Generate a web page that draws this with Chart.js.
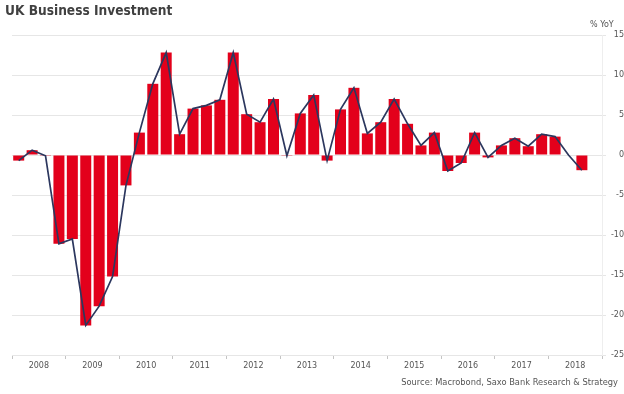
<!DOCTYPE html>
<html>
<head>
<meta charset="utf-8">
<script src="https://cdn.jsdelivr.net/npm/chart.js@4"></script>
<style>
    body { margin: 0; background: #fff; }
    #wrap { position: relative; width: 624px; height: 394px; }
    #chart { position: absolute; left: 0; top: 0; }
    .title { position: absolute; left: 5px; top: 2px; font: bold 13.6px "DejaVu Sans Condensed", "DejaVu Sans", sans-serif; color: #404040; }
    .unit { position: absolute; left: 590px; top: 20px; font: 8px "DejaVu Sans", sans-serif; color: #555; }
    .source { position: absolute; right: 6px; top: 377px; font: 8.3px "DejaVu Sans", sans-serif; color: #555; }
</style>
</head>
<body>
<div id="wrap">
    <canvas id="chart" width="624" height="394"></canvas>
    <div class="title">UK Business Investment</div>
    <div class="unit">% YoY</div>
    <div class="source">Source: Macrobond, Saxo Bank Research &amp; Strategy</div>
</div>
<script>
// Quarterly data, 2008 Q1 .. 2018 Q3
const years = ['2008', '2009', '2010', '2011', '2012', '2013', '2014', '2015', '2016', '2017', '2018'];
const quarters = [];
years.forEach(y => ['Q1', 'Q2', 'Q3', 'Q4'].forEach(q => quarters.push(y + ' ' + q)));

const investment = [
    -0.7, 0.6, -0.1, -11.1,
    -10.5, -21.3, -18.9, -15.2,
    -3.8, 2.8, 8.9, 12.8,
    2.6, 5.8, 6.2, 6.9,
    12.8, 5.1, 4.1, 7.0,
    -0.1, 5.2, 7.5, -0.7,
    5.7, 8.4, 2.7, 4.1,
    7.0, 3.9, 1.2, 2.8,
    -2.0, -1.0, 2.8, -0.3,
    1.2, 2.1, 1.1, 2.6,
    2.3, 0.0, -1.9
];

const yTicks = [15, 10, 5, 0, -5, -10, -15, -20, -25];

const ctx = document.getElementById('chart').getContext('2d');
new Chart(ctx, {
    data: {
        labels: quarters,
        datasets: [{
            type: 'line',
            data: investment,
            borderColor: '#2c375e',
            borderWidth: 1.7,
            pointRadius: 0,
            tension: 0,
            order: 0
        }, {
            type: 'bar',
            data: investment,
            backgroundColor: '#e3001b',
            barPercentage: 0.82,
            categoryPercentage: 1.0,
            order: 1
        }]
    },
    options: {
        responsive: false,
        animation: false,
        layout: { padding: { left: 12, top: 35, right: 0, bottom: 19 } },
        plugins: { legend: { display: false }, tooltip: { enabled: false } },
        scales: {
            x: {
                type: 'category',
                display: false,
                offset: true
            },
            years: {
                type: 'linear',
                position: 'bottom',
                min: 0,
                max: 11,
                afterBuildTicks: scale => {
                    const t = [];
                    for (let i = 0; i <= 22; i++) t.push({ value: i / 2 });
                    scale.ticks = t;
                },
                afterFit: scale => { scale.height = 20; },
                grid: {
                    drawOnChartArea: false,
                    tickLength: 4,
                    color: ctx => (ctx.tick && ctx.tick.value % 1 === 0) ? '#c4c4c4' : 'rgba(0,0,0,0)'
                },
                border: { display: false },
                ticks: {
                    autoSkip: false,
                    maxRotation: 0,
                    padding: 2,
                    color: '#555',
                    font: { family: 'DejaVu Sans', size: 8 },
                    callback: v => (v % 1 !== 0) ? years[Math.floor(v)] : ''
                }
            },
            y: {
                position: 'right',
                min: -25,
                max: 15,
                afterBuildTicks: scale => { scale.ticks = yTicks.map(v => ({ value: v })); },
                afterFit: scale => { scale.width = 22; },
                grid: { color: '#e6e6e6', tickLength: 4, lineWidth: 1 },
                border: { display: true, color: '#eeeeee' },
                ticks: {
                    padding: 3,
                    crossAlign: 'far',
                    color: '#555',
                    font: { family: 'DejaVu Sans', size: 8 }
                }
            }
        }
    }
});
</script>
</body>
</html>
